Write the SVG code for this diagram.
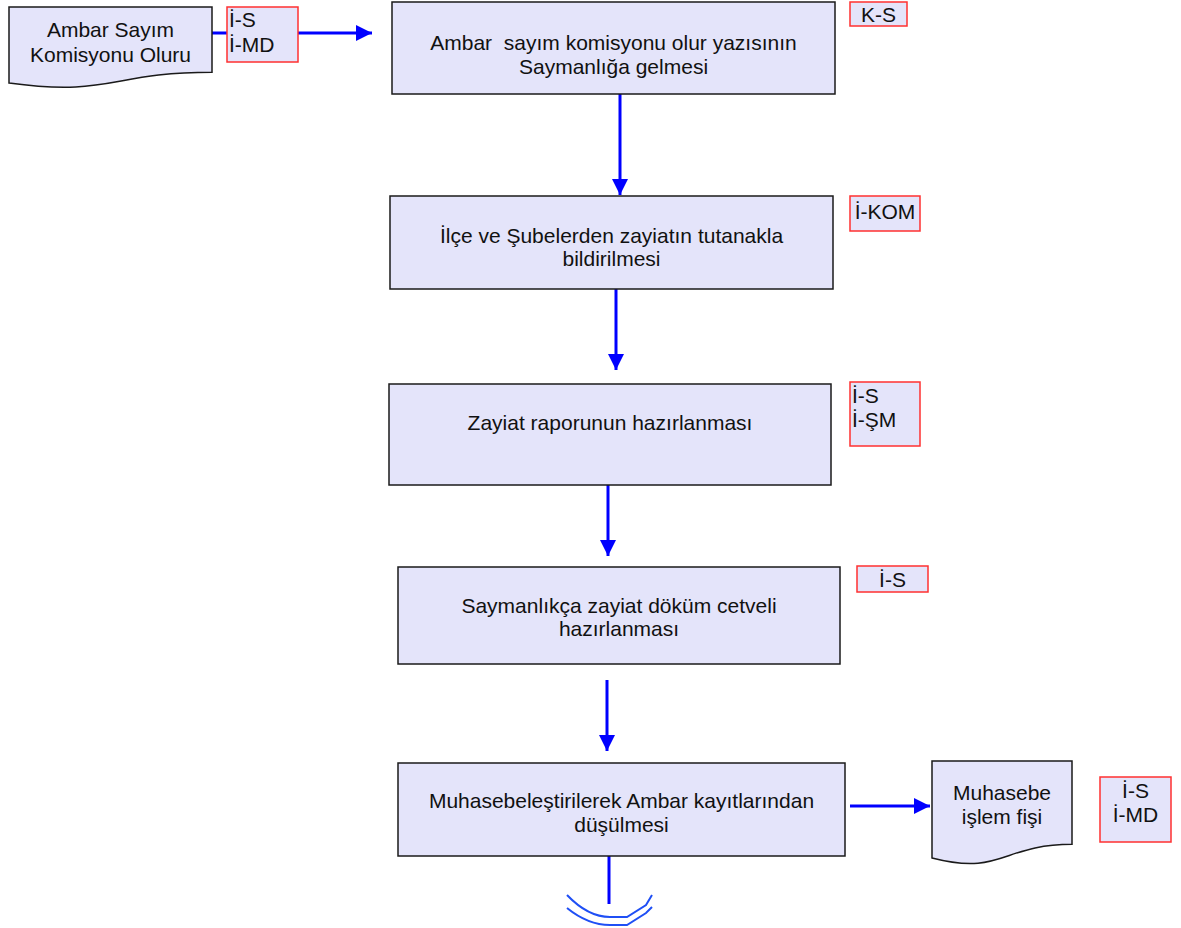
<svg xmlns="http://www.w3.org/2000/svg" width="1181" height="928" viewBox="0 0 1181 928">
<style>
.box{fill:#E4E4FA;stroke:#1a1a1a;stroke-width:1.5}
.lbl{fill:#E4E4FA;stroke:#FF3030;stroke-width:1.5}
.t{font-family:"Liberation Sans",Arial,sans-serif;font-size:21px;fill:#111}
.c{text-anchor:middle}
.con{stroke:#0000FF;stroke-width:3;fill:none}
.arc{stroke:#1F4FF5;stroke-width:2;fill:none}
</style>
<defs>
<marker id="ah" markerUnits="userSpaceOnUse" markerWidth="16" markerHeight="16" refX="16" refY="8" orient="auto">
<path d="M0,0 L16,8 L0,16 Z" fill="#0000FF"/>
</marker>
</defs>
<rect width="1181" height="928" fill="#fff"/>
<g id="connectors">
<line class="con" x1="212" y1="33" x2="372" y2="33" marker-end="url(#ah)"/>
<line class="con" x1="620" y1="94" x2="620" y2="195" marker-end="url(#ah)"/>
<line class="con" x1="616" y1="289" x2="616" y2="370" marker-end="url(#ah)"/>
<line class="con" x1="608" y1="485" x2="608" y2="556" marker-end="url(#ah)"/>
<line class="con" x1="607" y1="680" x2="607" y2="751" marker-end="url(#ah)"/>
<line class="con" x1="850" y1="806" x2="930" y2="806" marker-end="url(#ah)"/>
<line class="con" x1="609" y1="856" x2="609" y2="904" stroke-width="2.5"/>
<path class="arc" d="M567,895 Q588,917 610,917 L627,917 L646,905 L652,895"/>
<path class="arc" d="M567,908 Q588,925 610,925 L627,925 L646,913 L652,907"/>
</g>
<g id="doc1">
<path class="box" d="M9,7 L212,7 L212,72.3 C110.5,72.3 110.5,97 9,83 Z"/>
<text class="t c" x="110.5" y="37">Ambar Sayım</text>
<text class="t c" x="110.5" y="62">Komisyonu Oluru</text>
</g>
<g id="label1">
<rect class="lbl" x="227" y="7" width="71" height="55"/>
<text class="t" x="229" y="27">İ-S</text>
<text class="t" x="229" y="52">İ-MD</text>
</g>
<g id="box1">
<rect class="box" x="392" y="2" width="443" height="92"/>
<text class="t c" x="613.5" y="50" xml:space="preserve">Ambar  sayım komisyonu olur yazısının</text>
<text class="t c" x="613.5" y="74">Saymanlığa gelmesi</text>
</g>
<g id="label-ks">
<rect class="lbl" x="850" y="2" width="57" height="24"/>
<text class="t c" x="878.5" y="22">K-S</text>
</g>
<g id="box2">
<rect class="box" x="390" y="196" width="443" height="93"/>
<text class="t c" x="611.5" y="243">İlçe ve Şubelerden zayiatın tutanakla</text>
<text class="t c" x="611.5" y="266">bildirilmesi</text>
</g>
<g id="label-kom">
<rect class="lbl" x="850" y="196" width="70" height="35"/>
<text class="t c" x="885" y="219">İ-KOM</text>
</g>
<g id="box3">
<rect class="box" x="389" y="384" width="442" height="101"/>
<text class="t c" x="610" y="430">Zayiat raporunun hazırlanması</text>
</g>
<g id="label3">
<rect class="lbl" x="850" y="382" width="70" height="64"/>
<text class="t" x="852" y="403">İ-S</text>
<text class="t" x="852" y="427">İ-ŞM</text>
</g>
<g id="box4">
<rect class="box" x="398" y="567" width="442" height="97"/>
<text class="t c" x="619" y="613">Saymanlıkça zayiat döküm cetveli</text>
<text class="t c" x="619" y="636">hazırlanması</text>
</g>
<g id="label4">
<rect class="lbl" x="857" y="566" width="71" height="26"/>
<text class="t c" x="892.5" y="587">İ-S</text>
</g>
<g id="box5">
<rect class="box" x="398" y="763" width="447" height="93"/>
<text class="t c" x="621.5" y="808">Muhasebeleştirilerek Ambar kayıtlarından</text>
<text class="t c" x="621.5" y="832">düşülmesi</text>
</g>
<g id="doc2">
<path class="box" d="M932,761 L1072,761 L1072,844.3 C1002,844.3 1002,876 932,858 Z"/>
<text class="t c" x="1002" y="800">Muhasebe</text>
<text class="t c" x="1002" y="824">işlem fişi</text>
</g>
<g id="label5">
<rect class="lbl" x="1100" y="777" width="71" height="65"/>
<text class="t c" x="1135.5" y="798">İ-S</text>
<text class="t c" x="1135.5" y="822">İ-MD</text>
</g>
</svg>
